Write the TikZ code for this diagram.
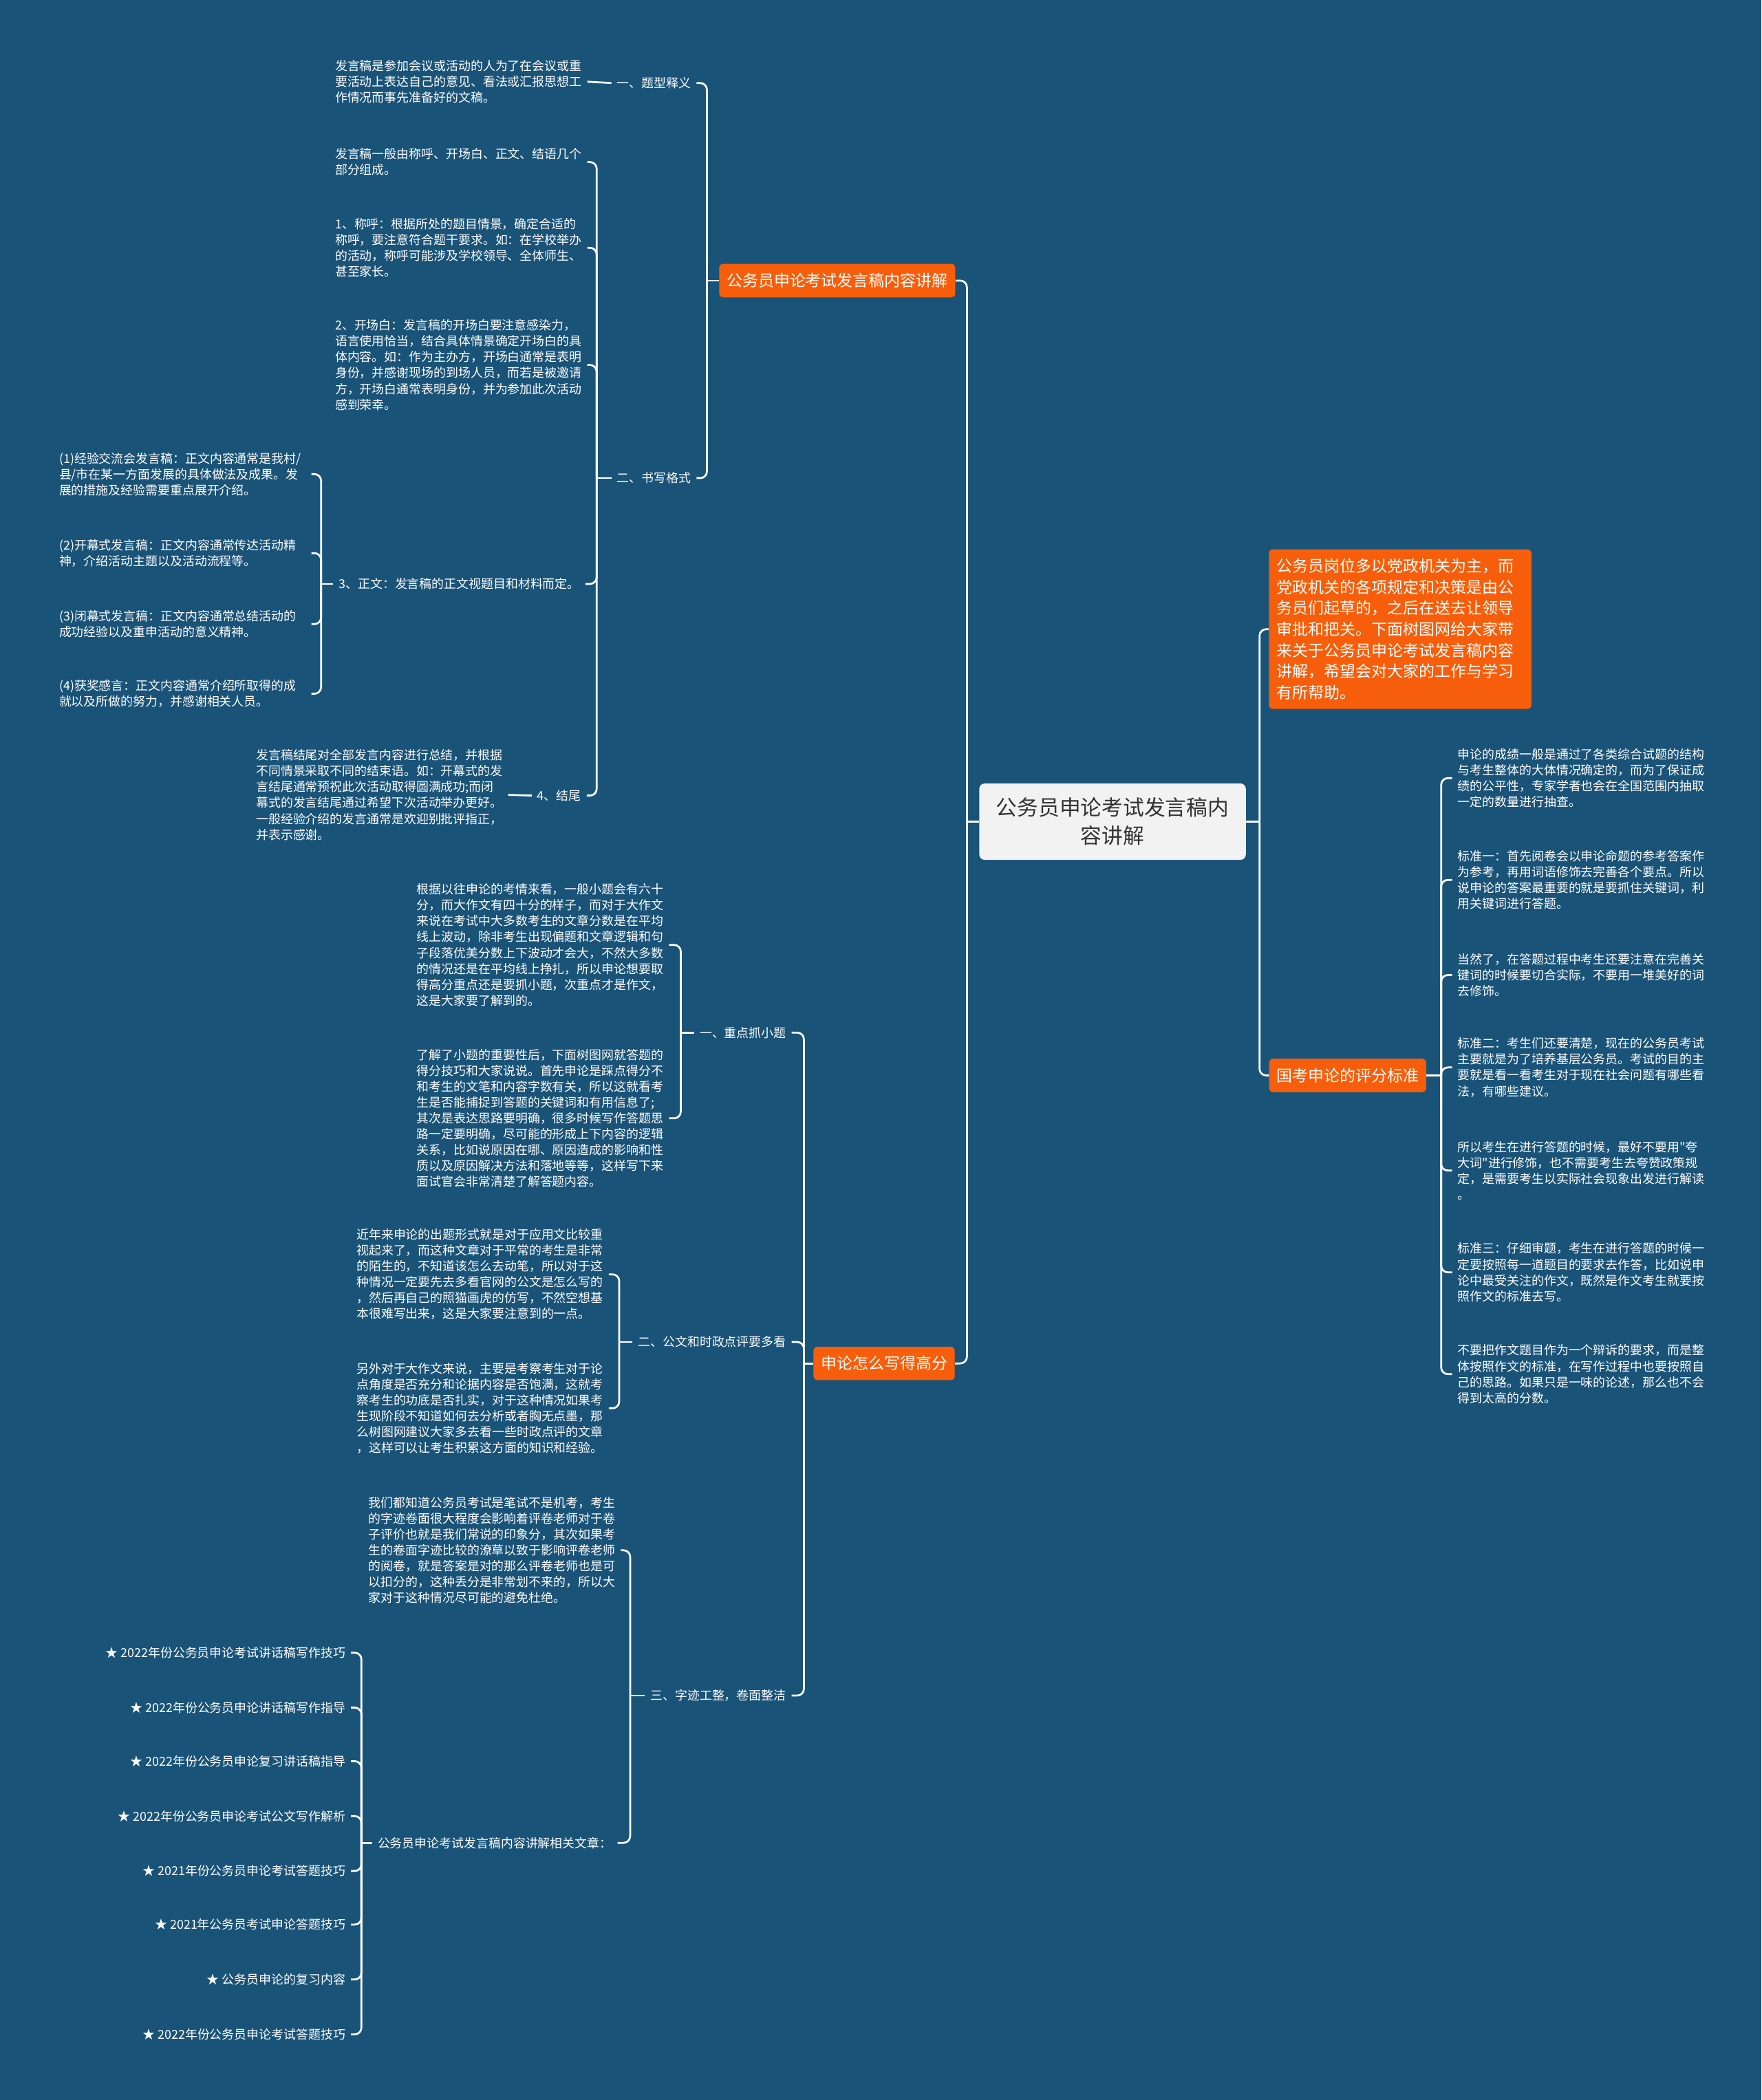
\documentclass[tikz,border=0pt]{standalone}
\usepackage{fontspec}
\setmainfont{Noto Sans CJK SC}[Ligatures=TeXOff]
\definecolor{bgc}{HTML}{1A5378}
\definecolor{orng}{HTML}{F75E0B}
\definecolor{ctrfill}{HTML}{F2F2F2}
\definecolor{ctrtext}{HTML}{333333}
\newcommand\ftxt{\fontsize{9.2pt}{11.85pt}\selectfont}
\newcommand\fbr{\fontsize{11.8pt}{15.7pt}\selectfont}
\newcommand\fctr{\fontsize{15.8pt}{21pt}\selectfont}
\tikzset{
  txt/.style={text=white, font=\ftxt, align=left, text width=184pt, inner xsep=4pt, inner ysep=1pt, anchor=west},
  lbl/.style={text=white, font=\ftxt, inner xsep=4pt, inner ysep=1pt},
  obox/.style={fill=orng, text=white, rounded corners=3pt, font=\fbr, inner xsep=5.5pt, minimum height=25pt},
  conn/.style={draw=white, line width=1.4pt, rounded corners=5pt},
}
\begin{document}
\begin{tikzpicture}[x=1pt,y=-1pt]
\fill[bgc] (0,0) rectangle (1315,1568);
\useasboundingbox (0,0) rectangle (1315,1568);

% ---------- center ----------
\node[fill=ctrfill, text=ctrtext, rounded corners=4pt, font=\fctr, align=center, text width=174pt,
      minimum width=199pt, minimum height=57pt, inner xsep=12.5pt] (C) at (830.5,613.5)
  {公务员申论考试发言稿内\\容讲解};

% ---------- main branches ----------
\node[obox] (B1) at (625,209.5) {公务员申论考试发言稿内容讲解};
\node[obox] (B2) at (660,1018) {申论怎么写得高分};
\node[obox] (gk) at (1006,803) {国考申论的评分标准};
\node[obox, anchor=north west, align=left, text width=184pt, inner xsep=6pt, inner ysep=7pt] (intro) at (947,410)
  {公务员岗位多以党政机关为主，而\\党政机关的各项规定和决策是由公\\务员们起草的，之后在送去让领导\\审批和把关。下面树图网给大家带\\来关于公务员申论考试发言稿内容\\讲解，希望会对大家的工作与学习\\有所帮助。};

% ---------- branch 1 ----------
\node[lbl, anchor=east] (L11) at (520,62) {一、题型释义};
\node[txt] (tdef) at (246,61) {发言稿是参加会议或活动的人为了在会议或重\\要活动上表达自己的意见、看法或汇报思想工\\作情况而事先准备好的文稿。};
\node[lbl, anchor=east] (L12) at (520,357) {二、书写格式};
\node[txt] (tf0) at (246,121) {发言稿一般由称呼、开场白、正文、结语几个\\部分组成。};
\node[txt] (tf1) at (246,185) {1、称呼：根据所处的题目情景，确定合适的\\称呼，要注意符合题干要求。如：在学校举办\\的活动，称呼可能涉及学校领导、全体师生、\\甚至家长。};
\node[txt] (tf2) at (246,272.5) {2、开场白：发言稿的开场白要注意感染力，\\语言使用恰当，结合具体情景确定开场白的具\\体内容。如：作为主办方，开场白通常是表明\\身份，并感谢现场的到场人员，而若是被邀请\\方，开场白通常表明身份，并为参加此次活动\\感到荣幸。};
\node[lbl, anchor=east] (L123) at (437,436) {3、正文：发言稿的正文视题目和材料而定。};
\node[txt] (z1) at (40,354) {(1)经验交流会发言稿：正文内容通常是我村/\\县/市在某一方面发展的具体做法及成果。发\\展的措施及经验需要重点展开介绍。};
\node[txt] (z2) at (40,413) {(2)开幕式发言稿：正文内容通常传达活动精\\神，介绍活动主题以及活动流程等。};
\node[txt] (z3) at (40,466) {(3)闭幕式发言稿：正文内容通常总结活动的\\成功经验以及重申活动的意义精神。};
\node[txt] (z4) at (40,518) {(4)获奖感言：正文内容通常介绍所取得的成\\就以及所做的努力，并感谢相关人员。};
\node[lbl, anchor=east] (L124) at (438,594) {4、结尾};
\node[txt] (tend) at (187,593.5) {发言稿结尾对全部发言内容进行总结，并根据\\不同情景采取不同的结束语。如：开幕式的发\\言结尾通常预祝此次活动取得圆满成功;而闭\\幕式的发言结尾通过希望下次活动举办更好。\\一般经验介绍的发言通常是欢迎别批评指正，\\并表示感谢。};

% ---------- branch 2 ----------
\node[lbl, anchor=east] (L21) at (591,771) {一、重点抓小题};
\node[txt] (g1a) at (307,705.5) {根据以往申论的考情来看，一般小题会有六十\\分，而大作文有四十分的样子，而对于大作文\\来说在考试中大多数考生的文章分数是在平均\\线上波动，除非考生出现偏题和文章逻辑和句\\子段落优美分数上下波动才会大，不然大多数\\的情况还是在平均线上挣扎，所以申论想要取\\得高分重点还是要抓小题，次重点才是作文，\\这是大家要了解到的。};
\node[txt] (g1b) at (307,835) {了解了小题的重要性后，下面树图网就答题的\\得分技巧和大家说说。首先申论是踩点得分不\\和考生的文笔和内容字数有关，所以这就看考\\生是否能捕捉到答题的关键词和有用信息了;\\其次是表达思路要明确，很多时候写作答题思\\路一定要明确，尽可能的形成上下内容的逻辑\\关系，比如说原因在哪、原因造成的影响和性\\质以及原因解决方法和落地等等，这样写下来\\面试官会非常清楚了解答题内容。};
\node[lbl, anchor=east] (L22) at (591,1002) {二、公文和时政点评要多看};
\node[txt] (g2a) at (262,951.5) {近年来申论的出题形式就是对于应用文比较重\\视起来了，而这种文章对于平常的考生是非常\\的陌生的，不知道该怎么去动笔，所以对于这\\种情况一定要先去多看官网的公文是怎么写的\\，然后再自己的照猫画虎的仿写，不然空想基\\本很难写出来，这是大家要注意到的一点。};
\node[txt] (g2b) at (262,1051.5) {另外对于大作文来说，主要是考察考生对于论\\点角度是否充分和论据内容是否饱满，这就考\\察考生的功底是否扎实，对于这种情况如果考\\生现阶段不知道如何去分析或者胸无点墨，那\\么树图网建议大家多去看一些时政点评的文章\\，这样可以让考生积累这方面的知识和经验。};
\node[lbl, anchor=east] (L23) at (591,1266) {三、字迹工整，卷面整洁};
\node[txt] (g3a) at (271,1157.5) {我们都知道公务员考试是笔试不是机考，考生\\的字迹卷面很大程度会影响着评卷老师对于卷\\子评价也就是我们常说的印象分，其次如果考\\生的卷面字迹比较的潦草以致于影响评卷老师\\的阅卷，就是答案是对的那么评卷老师也是可\\以扣分的，这种丢分是非常划不来的，所以大\\家对于这种情况尽可能的避免杜绝。};
\node[lbl, anchor=east] (L234) at (461,1376) {公务员申论考试发言稿内容讲解相关文章：};
\node[lbl, anchor=east] (s1) at (262,1234) {★ 2022年份公务员申论考试讲话稿写作技巧};
\node[lbl, anchor=east] (s2) at (262,1275) {★ 2022年份公务员申论讲话稿写作指导};
\node[lbl, anchor=east] (s3) at (262,1315) {★ 2022年份公务员申论复习讲话稿指导};
\node[lbl, anchor=east] (s4) at (262,1356) {★ 2022年份公务员申论考试公文写作解析};
\node[lbl, anchor=east] (s5) at (262,1397) {★ 2021年份公务员申论考试答题技巧};
\node[lbl, anchor=east] (s6) at (262,1437) {★ 2021年公务员考试申论答题技巧};
\node[lbl, anchor=east] (s7) at (262,1478) {★ 公务员申论的复习内容};
\node[lbl, anchor=east] (s8) at (262,1519) {★ 2022年份公务员申论考试答题技巧};

% ---------- right branch ----------
\node[txt] (r1) at (1084,581) {申论的成绩一般是通过了各类综合试题的结构\\与考生整体的大体情况确定的，而为了保证成\\绩的公平性，专家学者也会在全国范围内抽取\\一定的数量进行抽查。};
\node[txt] (r2) at (1084,657) {标准一：首先阅卷会以申论命题的参考答案作\\为参考，再用词语修饰去完善各个要点。所以\\说申论的答案最重要的就是要抓住关键词，利\\用关键词进行答题。};
\node[txt] (r3) at (1084,728) {当然了，在答题过程中考生还要注意在完善关\\键词的时候要切合实际，不要用一堆美好的词\\去修饰。};
\node[txt] (r4) at (1084,797) {标准二：考生们还要清楚，现在的公务员考试\\主要就是为了培养基层公务员。考试的目的主\\要就是看一看考生对于现在社会问题有哪些看\\法，有哪些建议。};
\node[txt] (r5) at (1084,874) {所以考生在进行答题的时候，最好不要用"夸\\大词"进行修饰，也不需要考生去夸赞政策规\\定，是需要考生以实际社会现象出发进行解读\\。};
\node[txt] (r6) at (1084,950) {标准三：仔细审题，考生在进行答题的时候一\\定要按照每一道题目的要求去作答，比如说申\\论中最受关注的作文，既然是作文考生就要按\\照作文的标准去写。};
\node[txt] (r7) at (1084,1026) {不要把作文题目作为一个辩诉的要求，而是整\\体按照作文的标准，在写作过程中也要按照自\\己的思路。如果只是一味的论述，那么也不会\\得到太高的分数。};

% ---------- connectors ----------
\draw[conn] (C.west) -- ++(-9,0) coordinate (jc);
\draw[conn] (jc) |- (B1.east);
\draw[conn] (jc) |- (B2.east);
\draw[conn] (C.east) -- ++(10,0) coordinate (jr);
\draw[conn] (jr) |- (intro.west);
\draw[conn] (jr) |- (gk.west);

\draw[conn] (B1.west) -- ++(-9,0) coordinate (j1);
\foreach \n in {L11,L12} \draw[conn] (j1) |- (\n.east);
\draw[conn] (L11.west) -- (tdef.east);
\draw[conn] (L12.west) -- ++(-11,0) coordinate (j12);
\foreach \n in {tf0,tf1,tf2,L123,L124} \draw[conn] (j12) |- (\n.east);
\draw[conn] (L123.west) -- ++(-9,0) coordinate (j123);
\foreach \n in {z1,z2,z3,z4} \draw[conn] (j123) |- (\n.east);
\draw[conn] (L124.west) -- (tend.east);

\draw[conn] (B2.west) -- ++(-7,0) coordinate (j2);
\foreach \n in {L21,L22,L23} \draw[conn] (j2) |- (\n.east);
\draw[conn] (L21.west) -- ++(-10,0) coordinate (j21);
\foreach \n in {g1a,g1b} \draw[conn] (j21) |- (\n.east);
\draw[conn] (L22.west) -- ++(-10,0) coordinate (j22);
\foreach \n in {g2a,g2b} \draw[conn] (j22) |- (\n.east);
\draw[conn] (L23.west) -- ++(-11,0) coordinate (j23);
\foreach \n in {g3a,L234} \draw[conn] (j23) |- (\n.east);
\draw[conn] (L234.west) -- ++(-8,0) coordinate (j234);
\foreach \n in {s1,s2,s3,s4,s5,s6,s7,s8} \draw[conn] (j234) |- (\n.east);

\draw[conn] (gk.east) -- ++(11,0) coordinate (jg);
\foreach \n in {r1,r2,r3,r4,r5,r6,r7} \draw[conn] (jg) |- (\n.west);
\end{tikzpicture}
\end{document}
